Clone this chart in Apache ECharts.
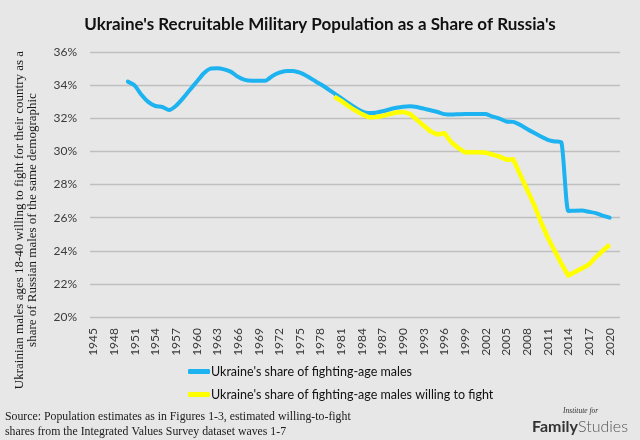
<!DOCTYPE html>
<html>
<head>
<meta charset="utf-8">
<script src="https://cdn.jsdelivr.net/npm/echarts@6/dist/echarts.min.js"></script>
<style>
html,body{margin:0;padding:0;background:#e7e7e7;}
#chart{width:640px;height:440px;}
</style>
</head>
<body>
<div id="chart"></div>
<script>
const categories = [1945,1946,1947,1948,1949,1950,1951,1952,1953,1954,1955,1956,1957,1958,1959,1960,1961,1962,1963,1964,1965,1966,1967,1968,1969,1970,1971,1972,1973,1974,1975,1976,1977,1978,1979,1980,1981,1982,1983,1984,1985,1986,1987,1988,1989,1990,1991,1992,1993,1994,1995,1996,1997,1998,1999,2000,2001,2002,2003,2004,2005,2006,2007,2008,2009,2010,2011,2012,2013,2014,2015,2016,2017,2018,2019,2020,2021];
const labelYears = [1945,1948,1951,1954,1957,1960,1963,1966,1969,1972,1975,1978,1981,1984,1987,1990,1993,1996,1999,2002,2005,2008,2011,2014,2017,2020];
const yTicks = [20,22,24,26,28,30,32,34,36];

const shareStart = 1950;
const shareValues = [34.21,33.97,33.4,32.97,32.74,32.68,32.5,32.76,33.2,33.71,
  34.2,34.7,35.0,35.02,34.95,34.8,34.5,34.32,34.27,34.27,
  34.27,34.55,34.75,34.86,34.86,34.75,34.55,34.3,34.05,33.78,
  33.5,33.22,32.92,32.65,32.42,32.32,32.33,32.42,32.53,32.63,
  32.7,32.73,32.68,32.58,32.48,32.38,32.25,32.22,32.24,32.26,
  32.26,32.26,32.25,32.1,31.98,31.8,31.78,31.6,31.35,31.12,
  30.9,30.7,30.6,30.53,26.4,26.42,26.43,26.35,26.27,26.12,
  26.0];

const willingStart = 1980;
const willingValues = [33.3,33.05,32.75,32.48,32.25,32.06,32.08,32.14,32.25,32.35,
  32.38,32.26,31.9,31.55,31.2,31.02,31.1,30.55,30.2,29.95,
  29.95,29.95,29.92,29.8,29.68,29.5,29.52,28.6,27.7,26.8,
  25.75,24.8,24.0,23.2,22.5,22.73,22.95,23.17,23.62,24.0,
  24.36];

const seriesNames = ["Ukraine's share of fighting-age males", "Ukraine's share of fighting-age males willing to fight"];
const titleText = "Ukraine's Recruitable Military Population as a Share of Russia's";
const yTitleLines = ["Ukrainian males ages 18-40 willing to fight for their country as a", "share of Russian males of the same demographic"];
const sourceLines = ["Source: Population estimates as in Figures 1-3, estimated willing-to-fight", "shares from the Integrated Values Survey dataset waves 1-7"];

function align(start, vals) {
  return categories.map(y => {
    const i = y - start;
    return (i >= 0 && i < vals.length) ? vals[i] : null;
  });
}

const chart = echarts.init(document.getElementById('chart'), null, {renderer: 'canvas'});
chart.setOption({
  backgroundColor: '#e7e7e7',
  animation: false,
  title: {
    text: titleText,
    left: 'center',
    top: 11,
    textStyle: {fontFamily: 'Lato', fontWeight: 'bold', fontSize: 17, color: '#111'}
  },
  grid: {left: 90, right: 20, top: 52, bottom: 123},
  legend: {
    orient: 'vertical',
    left: 183,
    top: 360,
    itemGap: 10,
    itemWidth: 22,
    itemHeight: 5,
    icon: 'roundRect',
    textStyle: {fontFamily: 'Lato', fontSize: 12.5, color: '#111', padding: [0,0,0,-4]},
    data: seriesNames
  },
  xAxis: {
    type: 'category',
    data: categories.map(String),
    boundaryGap: true,
    axisLine: {show: false},
    axisTick: {show: false},
    axisLabel: {
      rotate: 90,
      margin: 11,
      fontFamily: 'Lato',
      fontSize: 12,
      color: '#3a3a3a',
      interval: 0,
      formatter: v => labelYears.indexOf(Number(v)) >= 0 ? v : ''
    }
  },
  yAxis: {
    type: 'value',
    min: yTicks[0],
    max: yTicks[yTicks.length - 1],
    interval: 2,
    axisLine: {show: false},
    axisTick: {show: false},
    axisLabel: {margin: 13, fontFamily: 'Lato', fontSize: 12, color: '#3a3a3a', formatter: '{value}%'},
    splitLine: {lineStyle: {color: '#bfbfbf', width: 1.3}}
  },
  series: [
    {
      name: seriesNames[0],
      type: 'line',
      data: align(shareStart, shareValues),
      showSymbol: false,
      symbol: 'none',
      smooth: 0.2,
      lineStyle: {color: '#1db2f0', width: 4, cap: 'round', join: 'round'},
      itemStyle: {color: '#1db2f0'},
      z: 2
    },
    {
      name: seriesNames[1],
      type: 'line',
      data: align(willingStart, willingValues),
      showSymbol: false,
      symbol: 'none',
      lineStyle: {color: '#ffff00', width: 4.5, cap: 'butt', join: 'round'},
      itemStyle: {color: '#ffff00'},
      z: 3
    }
  ],
  graphic: [
    {
      type: 'text',
      x: 26, y: 220,
      rotation: Math.PI / 2,
      style: {
        text: yTitleLines.join('\n'),
        fontFamily: 'Liberation Serif',
        fontSize: 13,
        lineHeight: 12.5,
        fill: '#1a1a1a',
        align: 'center',
        verticalAlign: 'middle'
      }
    },
    {
      type: 'text',
      x: 5, y: 409,
      style: {
        text: sourceLines.join('\n'),
        fontFamily: 'Liberation Serif',
        fontSize: 11.8,
        lineHeight: 15,
        fill: '#1a1a1a'
      }
    },
    {
      type: 'text',
      x: 563, y: 407,
      style: {text: 'Institute for', fontFamily: 'Liberation Serif', fontStyle: 'italic', fontSize: 7.5, fill: '#333'}
    },
    {
      type: 'text',
      x: 532, y: 419,
      style: {
        text: '{a|Family}{b|Studies}',
        rich: {
          a: {fontFamily: 'Lato', fontWeight: 'bold', fontSize: 16, fill: '#333'},
          b: {fontFamily: 'Lato', fontWeight: 300, fontSize: 16, fill: '#555'}
        }
      }
    }
  ]
});
</script>
</body>
</html>
